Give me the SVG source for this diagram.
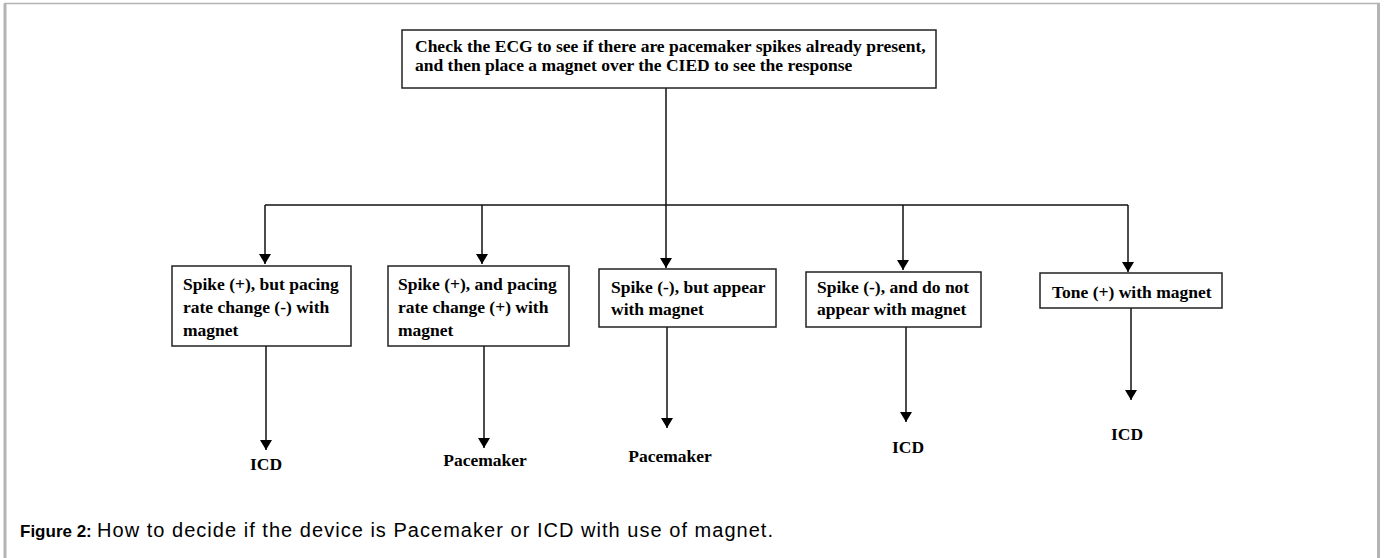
<svg xmlns="http://www.w3.org/2000/svg" width="1384" height="558" viewBox="0 0 1384 558">
<defs>
<marker id="ah" viewBox="0 0 10 12" refX="10" refY="6" markerWidth="10" markerHeight="12" markerUnits="userSpaceOnUse" orient="auto">
<path d="M0,0 L10,6 L0,12 Z" fill="#000"/>
</marker>
</defs>
<style>
.box{fill:#fff;stroke:#222;stroke-width:1.5}
.t{font-family:"Liberation Serif","Times New Roman",serif;font-weight:bold;font-size:17.5px;fill:#000}
.c{fill:none;stroke:#111;stroke-width:1.5}
.frame{stroke:#b4b4b4;fill:none}
</style>
<rect width="1384" height="558" fill="#fff"/>
<g id="frame">
<line class="frame" x1="5" y1="3.5" x2="5" y2="558" stroke-width="3"/>
<line class="frame" x1="4" y1="3.5" x2="1380" y2="3.5" stroke-width="1.5"/>
<line class="frame" x1="1378.5" y1="3.5" x2="1378.5" y2="558" stroke-width="3"/>
</g>
<g id="connectors">
<path class="c" d="M666,88 V205"/>
<path class="c" d="M265,205 H1128"/>
<path class="c" d="M265,205 V264" marker-end="url(#ah)"/>
<path class="c" d="M482,205 V264" marker-end="url(#ah)"/>
<path class="c" d="M666,205 V268" marker-end="url(#ah)"/>
<path class="c" d="M903,205 V270" marker-end="url(#ah)"/>
<path class="c" d="M1128,205 V272" marker-end="url(#ah)"/>
<path class="c" d="M266,346 V450" marker-end="url(#ah)"/>
<path class="c" d="M484,346 V448" marker-end="url(#ah)"/>
<path class="c" d="M667,327 V428" marker-end="url(#ah)"/>
<path class="c" d="M906,327 V422" marker-end="url(#ah)"/>
<path class="c" d="M1131,308 V400" marker-end="url(#ah)"/>
</g>
<g id="n-top">
<rect class="box" x="402" y="30" width="534" height="58"/>
<text class="t" x="415" y="52">Check the ECG to see if there are pacemaker spikes already present,</text>
<text class="t" x="415" y="71">and then place a magnet over the CIED to see the response</text>
</g>
<g id="n-1">
<rect class="box" x="172" y="266" width="179" height="80"/>
<text class="t" x="183" y="290">Spike (+), but pacing</text>
<text class="t" x="183" y="313">rate change (-) with</text>
<text class="t" x="183" y="336">magnet</text>
</g>
<g id="n-2">
<rect class="box" x="388" y="266" width="181" height="80"/>
<text class="t" x="398" y="290">Spike (+), and pacing</text>
<text class="t" x="398" y="313">rate change (+) with</text>
<text class="t" x="398" y="336">magnet</text>
</g>
<g id="n-3">
<rect class="box" x="599" y="269" width="177" height="58"/>
<text class="t" x="611" y="293">Spike (-), but appear</text>
<text class="t" x="611" y="315">with magnet</text>
</g>
<g id="n-4">
<rect class="box" x="806" y="272" width="175" height="55"/>
<text class="t" x="817" y="293">Spike (-), and do not</text>
<text class="t" x="817" y="315">appear with magnet</text>
</g>
<g id="n-5">
<rect class="box" x="1040" y="273" width="182" height="35"/>
<text class="t" x="1052" y="298">Tone (+) with magnet</text>
</g>
<g id="n-out1"><text class="t" x="266" y="470" text-anchor="middle">ICD</text></g>
<g id="n-out2"><text class="t" x="485" y="466" text-anchor="middle">Pacemaker</text></g>
<g id="n-out3"><text class="t" x="670" y="462" text-anchor="middle">Pacemaker</text></g>
<g id="n-out4"><text class="t" x="908" y="453" text-anchor="middle">ICD</text></g>
<g id="n-out5"><text class="t" x="1127" y="440" text-anchor="middle">ICD</text></g>
<g id="caption">
<text x="20" y="537" font-family="Liberation Sans, Arial, sans-serif" font-size="17" font-weight="bold" fill="#000">Figure 2:</text>
<text x="97" y="537" font-family="Liberation Sans, Arial, sans-serif" font-size="20" fill="#000" textLength="676" lengthAdjust="spacing">How to decide if the device is Pacemaker or ICD with use of magnet.</text>
</g>
</svg>
